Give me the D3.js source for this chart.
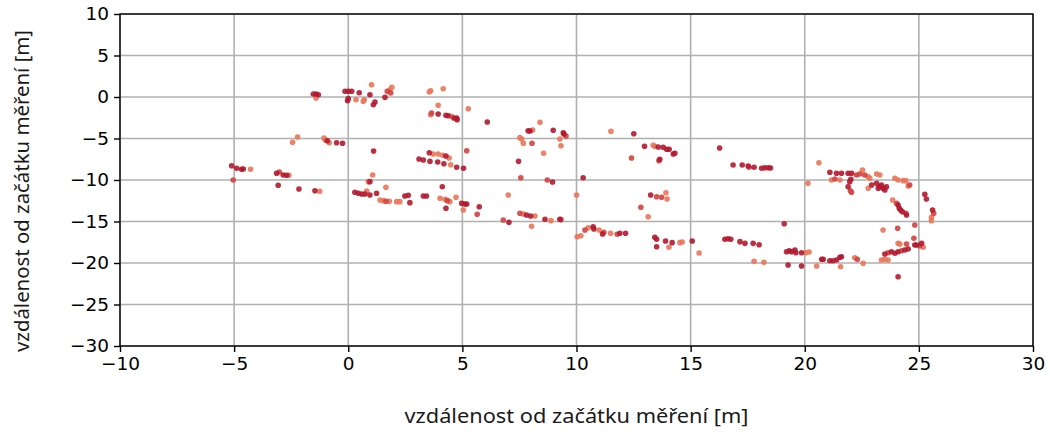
<!DOCTYPE html>
<html>
<head>
<meta charset="utf-8">
<script src="https://cdn.jsdelivr.net/npm/d3@7"></script>
<style>
  body { margin: 0; background: #fff; }
  svg { display: block; }
  .tick text { font-family: "DejaVu Sans", sans-serif; font-size: 18.5px; fill: #000; }
  .title { font-family: "Noto Sans", sans-serif; font-size: 19px; fill: #1a1a1a; }
</style>
</head>
<body>
<svg id="chart" width="1050" height="437"></svg>
<script>
// axis ticks
const xTicks = [-10, -5, 0, 5, 10, 15, 20, 25, 30];
const yTicks = [-30, -25, -20, -15, -10, -5, 0, 5, 10];

// measured points [x, y] in metres, grouped by shade
const darkPts = [
  [-5.11,-8.28],[-4.89,-8.59],[-4.67,-8.71],[-4.60,-8.67],
  [-3.14,-9.19],[-2.85,-9.40],[-2.70,-9.43],[-3.07,-10.64],[-2.16,-11.08],[-1.46,-11.29],
  [-0.92,-5.27],[-0.51,-5.51],[-0.25,-5.58],
  [-1.53,0.36],[-1.41,0.36],[-1.31,0.28],[-0.14,0.69],[0.0,0.69],[0.15,0.69],[0.48,0.52],
  [0.95,0.28],[-0.03,-0.45],[0.0,-0.20],[1.10,-0.93],[1.17,-0.60],[1.61,-0.04],
  [3.94,-2.05],[4.28,-2.20],[4.38,-2.25],[4.63,-2.53],[4.75,-2.53],[4.77,-2.73],
  [1.11,-6.51],[3.10,-7.47],[3.29,-7.59],[3.55,-6.71],[4.28,-7.11],[3.58,-7.75],[3.92,-7.83],
  [4.19,-8.04],[4.75,-8.47],[5.05,-8.59],
  [0.29,-11.48],[0.44,-11.60],[0.59,-11.69],[0.73,-11.69],[0.95,-11.81],[1.24,-11.60],[0.95,-10.20],
  [2.48,-11.93],[2.63,-11.84],[2.70,-12.73],[3.29,-11.93],[3.43,-11.93],[4.12,-10.81],[4.28,-13.41],
  [4.97,-12.81],[5.11,-12.89],[5.19,-12.89],[5.74,-13.22],
  [6.09,-3.01],[7.88,-4.06],[7.96,-4.10],[8.98,-4.01],[9.42,-4.30],[9.45,-4.46],[7.46,-7.75],
  [8.95,-10.24],[10.29,-9.72],[12.51,-4.42],[12.98,-5.94],[13.58,-6.02],[13.80,-6.06],[13.95,-6.30],
  [14.06,-6.30],[14.31,-6.78],[14.24,-6.87],[13.65,-7.51],[16.27,-6.14],
  [7.81,-14.22],[7.99,-14.34],[7.04,-15.10],[8.62,-14.73],[9.27,-14.73],[10.73,-15.63],[10.76,-15.90],
  [11.14,-16.51],[11.90,-16.42],[12.15,-16.42],[13.25,-11.81],
  [13.43,-16.90],[13.51,-17.14],[13.51,-18.04],[13.90,-17.35],[14.19,-17.55],[15.07,-17.35],
  [16.50,-17.14],[16.64,-17.07],[16.76,-17.14],[17.16,-17.43],[17.38,-17.63],[17.74,-17.63],[18.00,-17.80],
  [19.10,-15.27],[19.20,-18.64],[19.32,-18.52],[19.42,-18.64],[19.57,-18.43],[19.61,-18.76],[19.86,-18.76],
  [19.27,-20.24],[19.86,-20.36],[20.74,-19.55],[20.81,-19.55],[21.10,-19.72],[21.24,-19.72],[21.39,-19.64],
  [21.54,-19.31],[21.61,-19.24],
  [23.51,-18.92],[23.80,-18.64],[23.95,-18.83],[24.09,-18.64],[24.38,-18.43],[24.53,-18.31],
  [24.82,-17.83],[24.90,-17.83],[25.12,-17.63],[24.09,-21.65],
  [16.86,-8.19],[17.26,-8.19],[17.52,-8.31],[17.78,-8.47],[18.11,-8.59],[18.25,-8.52],[18.40,-8.52],[18.50,-8.55],
  [21.10,-9.07],[21.39,-9.19],[21.61,-9.19],[21.90,-9.19],[22.05,-9.19],[22.02,-9.92],[21.97,-10.20],
  [21.90,-10.81],[22.93,-10.60],[23.15,-10.40],[23.29,-10.81],[23.36,-10.60],[23.43,-11.00],[23.51,-11.20],
  [23.58,-10.81],[23.22,-11.00],
  [24.09,-13.01],[24.14,-13.41],[24.20,-13.61],[24.28,-13.82],[24.46,-14.22],
  [25.26,-11.72],[25.33,-12.29],[25.60,-13.61]
];

const midPts = [
  [-5.04,-10.0],[-3.02,-9.04],[1.71,0.69],[1.86,0.48],[3.65,-1.93],[5.19,-6.47],
  [1.65,-12.57],[4.34,-12.49],[5.65,-14.13],[9.54,-4.70],[8.05,-5.58],[7.56,-9.72],[8.72,-10.00],
  [12.41,-7.35],[13.61,-7.67],[7.52,-14.01],[6.79,-14.82],[9.32,-14.78],[10.37,-16.02],[11.20,-16.30],
  [11.78,-16.54],[12.82,-13.29],[13.51,-12.01],[13.73,-12.08],[22.30,-19.55],[23.65,-18.76],
  [24.24,-18.52],[24.46,-17.71],[24.78,-17.02],[25.04,-17.95],[24.07,-15.82],[24.82,-15.42],
  [17.56,-8.47],[21.32,-9.88],[22.27,-9.40],[22.41,-9.28],[22.63,-9.40],[24.60,-10.60],
  [22.00,-11.29],[22.05,-11.48],[24.02,-12.81],[24.43,-14.01],[25.65,-14.01]
];

const lightPts = [
  [-4.28,-8.71],[-2.60,-9.43],[-1.25,-11.36],[-2.44,-5.46],[-2.22,-4.82],[-1.06,-4.94],[-1.01,-5.18],
  [-0.83,-5.51],[-1.41,-0.12],[1.02,1.48],[0.34,-0.33],[0.66,-0.52],[0.70,-0.33],[1.83,0.88],[1.91,1.17],
  [3.55,0.60],[3.61,0.76],[4.16,1.00],[3.94,-1.00],[3.61,-2.13],[4.53,-2.33],[5.26,-1.41],
  [3.72,-6.87],[3.94,-6.87],[4.14,-7.02],[4.42,-7.35],[4.49,-8.16],
  [0.81,-11.33],[0.88,-10.20],[1.07,-9.40],[1.65,-10.88],[1.39,-12.41],[1.53,-12.49],[1.80,-12.57],
  [2.12,-12.61],[2.26,-12.61],[4.02,-12.20],[4.24,-12.33],[4.45,-12.61],[4.72,-12.08],[5.04,-13.61],
  [8.40,-3.05],[8.08,-3.98],[9.27,-5.06],[9.32,-5.87],[7.52,-4.90],[7.60,-5.06],[7.67,-5.58],[8.56,-6.78],
  [11.51,-4.13],[13.36,-5.82],[13.43,-5.94],
  [7.01,-11.81],[10.00,-11.81],[7.67,-14.10],[8.18,-14.34],[8.03,-15.58],[8.88,-14.90],
  [10.03,-16.83],[10.19,-16.71],[10.51,-15.75],[10.99,-16.02],[11.49,-16.42],[13.14,-14.42],
  [13.92,-11.53],[13.97,-12.29],[14.05,-18.11],[14.53,-17.55],[14.63,-17.47],[15.37,-18.80],
  [17.78,-19.80],[18.21,-19.92],[20.05,-18.76],[20.19,-18.67],[20.52,-20.36],[21.57,-20.45],
  [22.19,-19.36],[22.56,-20.04],[23.36,-19.64],[23.51,-19.55],[23.65,-19.64],
  [24.09,-17.63],[24.17,-17.71],[25.19,-18.11],[23.43,-16.02],
  [20.62,-7.92],[20.14,-10.40],[21.17,-10.00],[21.54,-10.00],[22.53,-8.80],[22.78,-9.60],[22.85,-9.80],
  [23.15,-9.28],[23.29,-9.40],[23.95,-9.80],[24.09,-10.00],[24.31,-10.08],[24.43,-10.08],[24.53,-10.72],
  [22.78,-11.00],[23.85,-12.41],[25.55,-14.49],[25.55,-14.90]
];

const shades = [
  { pts: lightPts, color: "#ea7659" },
  { pts: midPts, color: "#d2433f" },
  { pts: darkPts, color: "#b3182d" }
];

let svg = d3.select("#chart"),
    margin = {left: 120, right: 17, top: 14, bottom: 91},
    width = +svg.attr("width") - margin.left - margin.right,
    height = +svg.attr("height") - margin.top - margin.bottom;

let x = d3.scaleLinear().domain([-10, 30]).range([0, width]);
let y = d3.scaleLinear().domain([-30, 10]).range([height, 0]);

let g = svg.append("g").attr("transform", "translate(" + margin.left + "," + margin.top + ")");

// grid
g.append("g").selectAll("line").data(xTicks).enter().append("line")
    .attr("x1", d => x(d)).attr("x2", d => x(d))
    .attr("y1", 0).attr("y2", height)
    .attr("stroke", "#b0b0b0").attr("stroke-width", 1.6);
g.append("g").selectAll("line").data(yTicks).enter().append("line")
    .attr("y1", d => y(d)).attr("y2", d => y(d))
    .attr("x1", 0).attr("x2", width)
    .attr("stroke", "#b0b0b0").attr("stroke-width", 1.6);

// points
shades.forEach(function (s) {
    g.append("g").selectAll("circle").data(s.pts).enter().append("circle")
        .attr("cx", d => x(d[0]))
        .attr("cy", d => y(d[1]))
        .attr("r", 2.8)
        .attr("fill", s.color)
        .attr("fill-opacity", 0.9);
});

// axes
let fmt = d => d3.format("d")(d).replace("-", "\u2212");
let xAxis = g.append("g").attr("transform", "translate(0," + height + ")")
    .call(d3.axisBottom(x).tickValues(xTicks).tickFormat(fmt).tickSize(6).tickPadding(5));
let yAxis = g.append("g")
    .call(d3.axisLeft(y).tickValues(yTicks).tickFormat(fmt).tickSize(6).tickPadding(5));
[xAxis, yAxis].forEach(function (a) {
    a.select(".domain").remove();
    a.selectAll(".tick line").attr("stroke", "#000").attr("stroke-width", 1.4);
});

// frame
g.append("rect").attr("width", width).attr("height", height)
    .attr("fill", "none").attr("stroke", "#000").attr("stroke-width", 1.4);

// titles
svg.append("text").attr("class", "title")
    .attr("x", margin.left + width / 2).attr("y", 423)
    .attr("text-anchor", "middle")
    .attr("textLength", 344).attr("lengthAdjust", "spacingAndGlyphs")
    .text("vzdálenost od začátku měření [m]");
svg.append("text").attr("class", "title")
    .attr("transform", "translate(29," + (margin.top + height / 2 + 11) + ") rotate(-90)")
    .attr("text-anchor", "middle")
    .attr("textLength", 322).attr("lengthAdjust", "spacingAndGlyphs")
    .text("vzdálenost od začátku měření [m]");
</script>
</body>
</html>
